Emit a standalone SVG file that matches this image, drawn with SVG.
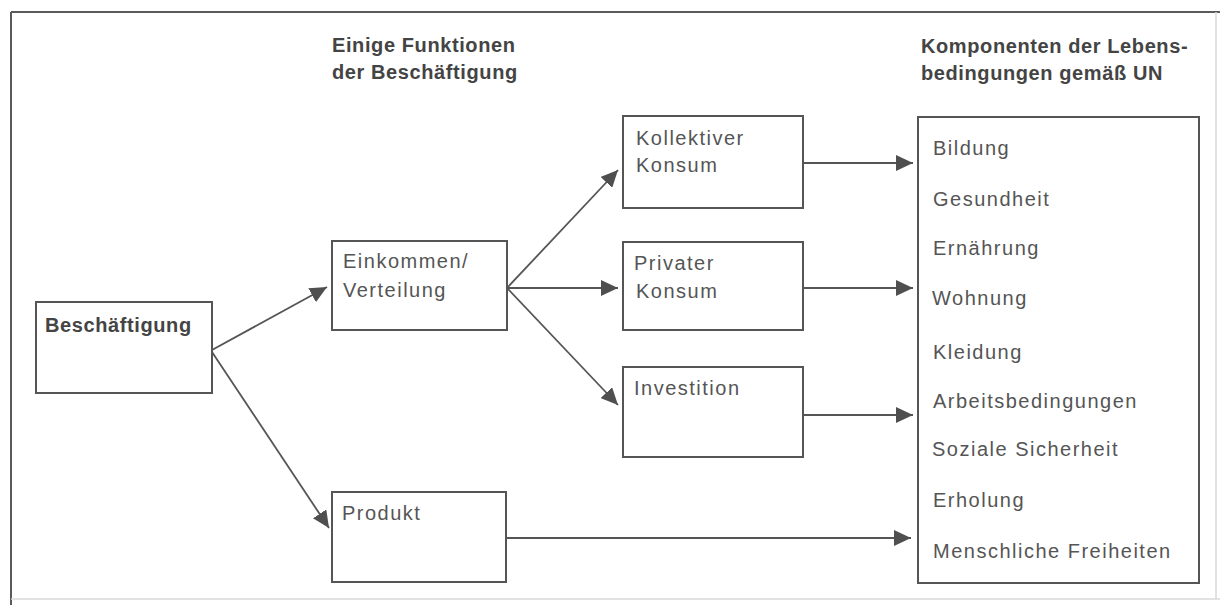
<svg xmlns="http://www.w3.org/2000/svg" width="1220" height="605" viewBox="0 0 1220 605">
  <style>
    .frame { fill: none; stroke: #5a5a5a; stroke-width: 2; }
    .faint { fill: none; stroke: #d8d8d8; stroke-width: 1.5; }
    .box { fill: #ffffff; stroke: #555555; stroke-width: 2; }
    .t { font-family: "Liberation Sans", Arial, sans-serif; font-size: 20px; fill: #555555; letter-spacing: 1.5px; }
    .b { font-family: "Liberation Sans", Arial, sans-serif; font-size: 20px; font-weight: bold; fill: #444444; letter-spacing: 0.6px; }
    .c { fill: none; stroke: #555555; stroke-width: 1.8; marker-end: url(#ah); }
  </style>
  <defs>
    <marker id="ah" markerUnits="userSpaceOnUse" markerWidth="18" markerHeight="16" refX="17" refY="8" orient="auto">
      <path d="M0,0 L17,8 L0,16 z" fill="#4f4f4f"/>
    </marker>
  </defs>
  <rect x="0" y="0" width="1220" height="605" fill="#ffffff"/>
  <g id="frame">
    <line class="frame" x1="11" y1="12" x2="1220" y2="12"/>
    <line class="frame" x1="11" y1="12" x2="11" y2="605"/>
    <line class="faint" x1="11" y1="599" x2="1220" y2="599"/>
    <line class="faint" x1="1216" y1="12" x2="1216" y2="599"/>
  </g>
  <g id="headings">
    <text class="b" x="332" y="52">Einige Funktionen</text>
    <text class="b" x="332" y="79">der Beschäftigung</text>
    <text class="b" x="921" y="53" letter-spacing="0.5">Komponenten der Lebens-</text>
    <text class="b" x="921" y="80" letter-spacing="0.5">bedingungen gemäß UN</text>
  </g>
  <g id="connectors">
    <line class="c" x1="212" y1="350" x2="327" y2="287"/>
    <line class="c" x1="212" y1="352" x2="329" y2="528"/>
    <line class="c" x1="507" y1="288" x2="618" y2="170"/>
    <line class="c" x1="507" y1="288" x2="618" y2="288"/>
    <line class="c" x1="507" y1="288" x2="618" y2="405"/>
    <line class="c" x1="803" y1="163" x2="913" y2="163"/>
    <line class="c" x1="803" y1="288" x2="913" y2="288"/>
    <line class="c" x1="803" y1="415" x2="913" y2="415"/>
    <line class="c" x1="506" y1="538" x2="911" y2="538"/>
  </g>
  <g id="beschaeftigung">
    <rect class="box" x="36" y="302" width="176" height="91"/>
    <text class="b" x="45" y="332" letter-spacing="0.4">Beschäftigung</text>
  </g>
  <g id="einkommen">
    <rect class="box" x="332" y="241" width="175" height="89"/>
    <text class="t" x="343" y="268" letter-spacing="2">Einkommen/</text>
    <text class="t" x="343" y="297">Verteilung</text>
  </g>
  <g id="produkt">
    <rect class="box" x="332" y="492" width="174" height="90"/>
    <text class="t" x="342" y="520">Produkt</text>
  </g>
  <g id="kollektiver">
    <rect class="box" x="623" y="116" width="180" height="92"/>
    <text class="t" x="636" y="145">Kollektiver</text>
    <text class="t" x="636" y="172">Konsum</text>
  </g>
  <g id="privater">
    <rect class="box" x="623" y="242" width="180" height="88"/>
    <text class="t" x="634" y="270">Privater</text>
    <text class="t" x="636" y="298">Konsum</text>
  </g>
  <g id="investition">
    <rect class="box" x="623" y="367" width="180" height="90"/>
    <text class="t" x="634" y="395">Investition</text>
  </g>
  <g id="komponenten">
    <rect class="box" x="918" y="117" width="281" height="466"/>
    <text class="t" x="933" y="155">Bildung</text>
    <text class="t" x="933" y="206">Gesundheit</text>
    <text class="t" x="933" y="255">Ernährung</text>
    <text class="t" x="932" y="305">Wohnung</text>
    <text class="t" x="933" y="359">Kleidung</text>
    <text class="t" x="933" y="408">Arbeitsbedingungen</text>
    <text class="t" x="932" y="456">Soziale Sicherheit</text>
    <text class="t" x="933" y="507">Erholung</text>
    <text class="t" x="933" y="558">Menschliche Freiheiten</text>
  </g>
</svg>
